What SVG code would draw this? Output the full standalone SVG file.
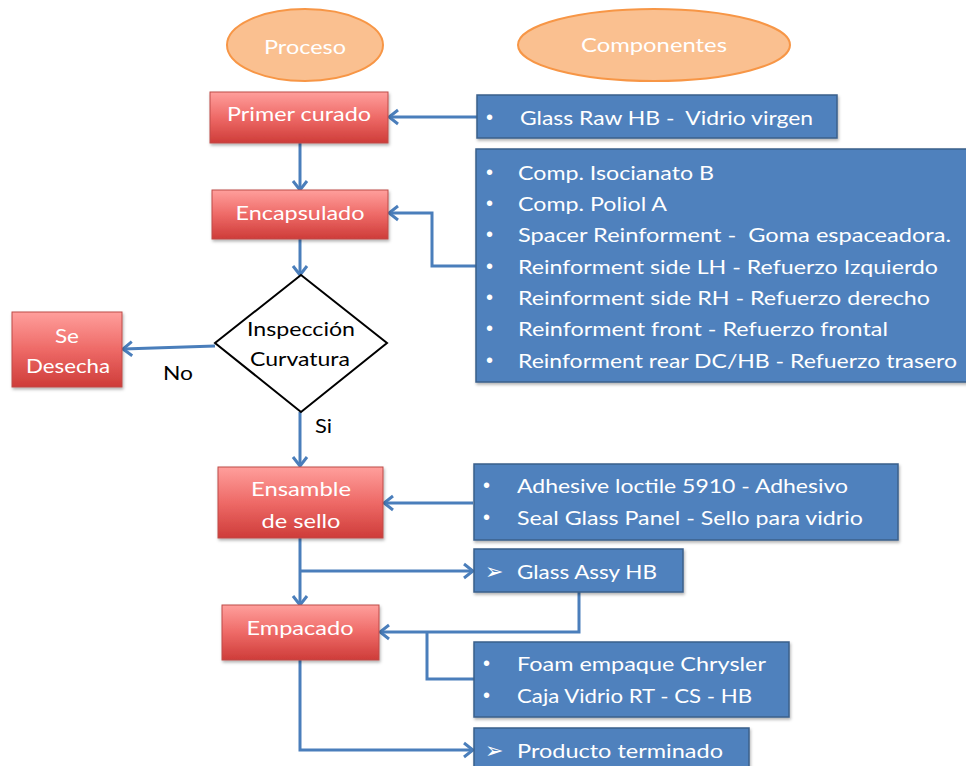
<svg xmlns="http://www.w3.org/2000/svg" width="966" height="766" viewBox="0 0 966 766">
<defs>
<linearGradient id="red" x1="0" y1="0" x2="0" y2="1">
<stop offset="0" stop-color="#FF9F9C"/>
<stop offset="0.5" stop-color="#EE6A67"/>
<stop offset="1" stop-color="#CE3C39"/>
</linearGradient>
<filter id="sh" x="-10%" y="-10%" width="125%" height="130%">
<feDropShadow dx="1" dy="2" stdDeviation="1.5" flood-color="#000" flood-opacity="0.3"/>
</filter>
<marker id="ah" markerUnits="userSpaceOnUse" markerWidth="20" markerHeight="20" viewBox="0 0 20 20" refX="18" refY="10" orient="auto">
<path d="M9,3 L18,10 L9,17" fill="none" stroke="#4A7EBB" stroke-width="3"/>
</marker>
</defs>
<style>
.ell{fill:#FAC090;stroke:#F79646;stroke-width:2}
.red{fill:url(#red);stroke:#BE4B48;stroke-width:1;filter:url(#sh)}
.blue{fill:#4F81BD;stroke:#3A5F8B;stroke-width:1.5;filter:url(#sh)}
.t{font-family:Lato,"Liberation Sans",sans-serif;font-size:20px;fill:#fff;dominant-baseline:central;white-space:pre}
.k{font-family:Lato,"Liberation Sans",sans-serif;font-size:20px;fill:#000;dominant-baseline:central}
.b{font-family:"Liberation Sans",sans-serif;font-size:20px;fill:#fff;dominant-baseline:central}
.a{font-family:"DejaVu Sans",sans-serif;font-size:22px;fill:#fff;dominant-baseline:central}
.c{fill:none;stroke:#4A7EBB;stroke-width:3}
.ca{fill:none;stroke:#4A7EBB;stroke-width:3;marker-end:url(#ah)}
</style>

<g id="connectors">
<path class="ca" d="M300,143 L300,190"/>
<path class="ca" d="M477,117 L389,117"/>
<path class="ca" d="M476,266 L432,266 L432,213 L389,213"/>
<path class="ca" d="M300,239 L300,275"/>
<path class="ca" d="M215,346 L123,349"/>
<path class="ca" d="M300,412 L300,466"/>
<path class="ca" d="M473,503 L384,503"/>
<path class="ca" d="M300,538 L300,605"/>
<path class="ca" d="M300,571 L473,571"/>
<path class="ca" d="M579,592 L579,632 L380,632"/>
<path class="c" d="M474,679 L427,679 L427,632"/>
<path class="ca" d="M300,660 L300,750 L473,750"/>
</g>

<g id="proceso">
<ellipse class="ell" cx="305" cy="45" rx="78" ry="36"/>
<text class="t" x="305" y="46" text-anchor="middle" textLength="82" lengthAdjust="spacingAndGlyphs">Proceso</text>
</g>
<g id="componentes">
<ellipse class="ell" cx="654" cy="45" rx="136" ry="36"/>
<text class="t" x="654" y="44" text-anchor="middle" textLength="146" lengthAdjust="spacingAndGlyphs">Componentes</text>
</g>

<g id="primer-curado">
<rect class="red" x="210" y="92" width="178" height="51"/>
<text class="t" x="299" y="113" text-anchor="middle" textLength="144" lengthAdjust="spacingAndGlyphs">Primer curado</text>
</g>
<g id="encapsulado">
<rect class="red" x="212" y="190" width="176" height="49"/>
<text class="t" x="300" y="212" text-anchor="middle" textLength="129" lengthAdjust="spacingAndGlyphs">Encapsulado</text>
</g>
<g id="inspeccion">
<polygon points="301,275 387,343 301,412 215,343" fill="#fff" stroke="#000" stroke-width="2"/>
<text class="k" x="301" y="328" text-anchor="middle" textLength="108" lengthAdjust="spacingAndGlyphs">Inspección</text>
<text class="k" x="300" y="358" text-anchor="middle" textLength="100" lengthAdjust="spacingAndGlyphs">Curvatura</text>
</g>
<g id="se-desecha">
<rect class="red" x="12" y="312" width="110" height="75"/>
<text class="t" x="67" y="335" text-anchor="middle" textLength="24" lengthAdjust="spacingAndGlyphs">Se</text>
<text class="t" x="68" y="365" text-anchor="middle" textLength="84" lengthAdjust="spacingAndGlyphs">Desecha</text>
</g>
<g id="labels">
<text class="k" x="163" y="372" textLength="30" lengthAdjust="spacingAndGlyphs">No</text>
<text class="k" x="315" y="425" textLength="17" lengthAdjust="spacingAndGlyphs">Si</text>
</g>
<g id="ensamble">
<rect class="red" x="218" y="467" width="165" height="71"/>
<text class="t" x="301" y="488" text-anchor="middle" textLength="100" lengthAdjust="spacingAndGlyphs">Ensamble</text>
<text class="t" x="301" y="520" text-anchor="middle" textLength="79" lengthAdjust="spacingAndGlyphs">de sello</text>
</g>
<g id="empacado">
<rect class="red" x="222" y="605" width="157" height="55"/>
<text class="t" x="300" y="627" text-anchor="middle" textLength="107" lengthAdjust="spacingAndGlyphs">Empacado</text>
</g>

<g id="glass-raw">
<rect class="blue" x="477" y="95" width="360" height="43"/>
<text class="b" x="486" y="117">•</text>
<text class="t" x="520" y="117" textLength="293" lengthAdjust="spacingAndGlyphs">Glass Raw HB -  Vidrio virgen</text>
</g>
<g id="componentes-encapsulado">
<rect class="blue" x="476" y="149" width="495" height="233"/>
<text class="b" x="486" y="172">•</text>
<text class="t" x="518" y="172" textLength="196" lengthAdjust="spacingAndGlyphs">Comp. Isocianato B</text>
<text class="b" x="486" y="203">•</text>
<text class="t" x="518" y="203" textLength="149" lengthAdjust="spacingAndGlyphs">Comp. Poliol A</text>
<text class="b" x="486" y="234">•</text>
<text class="t" x="518" y="234" textLength="433" lengthAdjust="spacingAndGlyphs">Spacer Reinforment -  Goma espaceadora.</text>
<text class="b" x="486" y="266">•</text>
<text class="t" x="518" y="266" textLength="420" lengthAdjust="spacingAndGlyphs">Reinforment side LH - Refuerzo Izquierdo</text>
<text class="b" x="486" y="297">•</text>
<text class="t" x="518" y="297" textLength="412" lengthAdjust="spacingAndGlyphs">Reinforment side RH - Refuerzo derecho</text>
<text class="b" x="486" y="328">•</text>
<text class="t" x="518" y="328" textLength="370" lengthAdjust="spacingAndGlyphs">Reinforment front - Refuerzo frontal</text>
<text class="b" x="486" y="360">•</text>
<text class="t" x="518" y="360" textLength="439" lengthAdjust="spacingAndGlyphs">Reinforment rear DC/HB - Refuerzo trasero</text>
</g>
<g id="adhesivo">
<rect class="blue" x="474" y="464" width="424" height="76"/>
<text class="b" x="483" y="485">•</text>
<text class="t" x="517" y="485" textLength="331" lengthAdjust="spacingAndGlyphs">Adhesive loctile 5910 - Adhesivo</text>
<text class="b" x="483" y="517">•</text>
<text class="t" x="517" y="517" textLength="346" lengthAdjust="spacingAndGlyphs">Seal Glass Panel - Sello para vidrio</text>
</g>
<g id="glass-assy">
<rect class="blue" x="474" y="549" width="209" height="43"/>
<text class="a" x="485" y="571">➢</text>
<text class="t" x="517" y="571" textLength="140" lengthAdjust="spacingAndGlyphs">Glass Assy HB</text>
</g>
<g id="empaque">
<rect class="blue" x="474" y="642" width="315" height="75"/>
<text class="b" x="483" y="663">•</text>
<text class="t" x="517" y="663" textLength="249" lengthAdjust="spacingAndGlyphs">Foam empaque Chrysler</text>
<text class="b" x="483" y="695">•</text>
<text class="t" x="517" y="695" textLength="235" lengthAdjust="spacingAndGlyphs">Caja Vidrio RT - CS - HB</text>
</g>
<g id="producto">
<rect class="blue" x="474" y="728" width="275" height="50"/>
<text class="a" x="485" y="750">➢</text>
<text class="t" x="517" y="750" textLength="206" lengthAdjust="spacingAndGlyphs">Producto terminado</text>
</g>
</svg>
